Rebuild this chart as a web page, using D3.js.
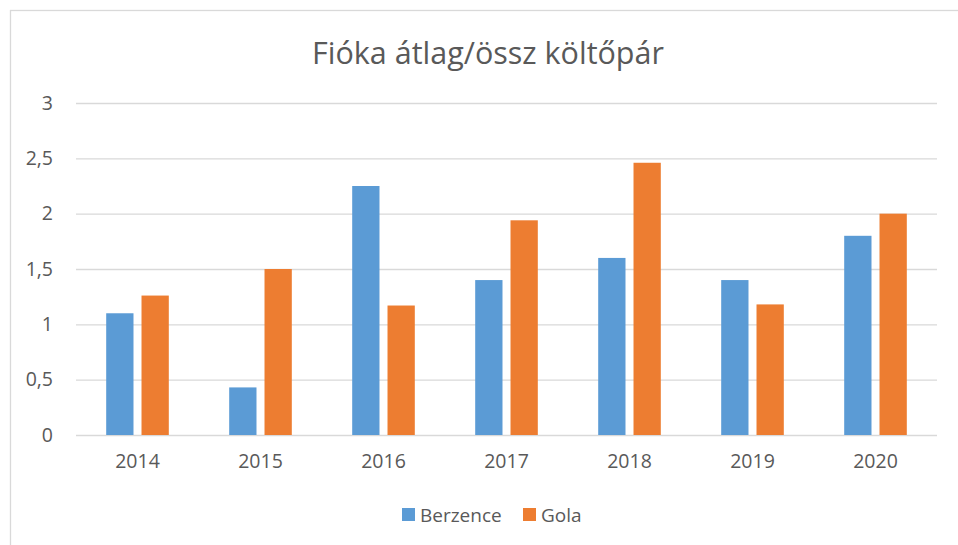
<!DOCTYPE html>
<html>
<head>
<meta charset="utf-8">
<script src="https://cdn.jsdelivr.net/npm/d3@7"></script>
<style>
  body { margin: 0; background: #fff; }
  svg { display: block; font-family: "Open Sans", sans-serif; }
</style>
</head>
<body>
<svg width="958" height="545"></svg>
<script>
// data
var years = ['2014', '2015', '2016', '2017', '2018', '2019', '2020'];
var seriesNames = ['Berzence', 'Gola'];
var berzence = [1.1, 0.43, 2.25, 1.4, 1.6, 1.4, 1.8];
var gola = [1.26, 1.5, 1.17, 1.94, 2.46, 1.18, 2.0];
var yTicks = [0, 0.5, 1, 1.5, 2, 2.5, 3];
var colors = ['#5b9bd5', '#ed7d31'];

var drawBarChart = function () {
    let svg = d3.select('svg');
    let margin = { top: 103, right: 21, bottom: 110, left: 76 };
    let plotWidth = 958 - margin.left - margin.right;
    let plotHeight = 545 - margin.top - margin.bottom;

    // chart area border (runs off the right/bottom of the picture)
    svg.append('rect')
        .attr('x', 10.5).attr('y', 10.5)
        .attr('width', 960).attr('height', 560)
        .attr('fill', 'none')
        .attr('stroke', '#d9d9d9')
        .attr('stroke-width', 1.3);

    svg.append('text')
        .attr('x', 488)
        .attr('y', 64)
        .attr('text-anchor', 'middle')
        .attr('fill', '#595959')
        .style('font-size', '30.5px')
        .text('Fióka átlag/össz költőpár');

    let plot = svg.append('g')
        .attr('id', 'plot')
        .attr('transform', 'translate(' + margin.left + ',' + margin.top + ')');

    let yearScale = d3.scaleBand()
        .domain(years)
        .range([0, plotWidth])
        .paddingInner(0.491)
        .paddingOuter(0.2455);

    let seriesScale = d3.scaleBand()
        .domain(seriesNames)
        .range([0, yearScale.bandwidth()])
        .paddingInner(0.227);

    let valueScale = d3.scaleLinear()
        .domain([0, 3])
        .range([plotHeight, 0]);

    let fmt = function (d) { return String(d).replace('.', ','); };

    // gridlines + y labels
    let yAxis = d3.axisLeft(valueScale)
        .tickValues(yTicks)
        .tickSize(-plotWidth)
        .tickPadding(23)
        .tickFormat(fmt);
    let yGroup = plot.append('g').attr('id', 'y-axis').call(yAxis);
    yGroup.select('.domain').remove();
    yGroup.selectAll('line').attr('stroke', '#d9d9d9').attr('stroke-width', 1.3);
    yGroup.selectAll('text')
        .attr('fill', '#595959')
        .style('font-size', '19.5px')
        .style('font-family', '"Open Sans", sans-serif');

    // bars
    let table = years.map(function (y, i) {
        return { year: y, values: [berzence[i], gola[i]] };
    });
    let groups = plot.selectAll('g.year')
        .data(table)
        .enter()
        .append('g')
        .attr('class', 'year')
        .attr('transform', function (d) { return 'translate(' + yearScale(d.year) + ',0)'; });
    groups.selectAll('rect')
        .data(function (d) {
            return d.values.map(function (v, j) { return { name: seriesNames[j], value: v, idx: j }; });
        })
        .enter()
        .append('rect')
        .attr('x', function (d) { return seriesScale(d.name); })
        .attr('y', function (d) { return valueScale(d.value); })
        .attr('width', seriesScale.bandwidth())
        .attr('height', function (d) { return plotHeight - valueScale(d.value); })
        .attr('fill', function (d) { return colors[d.idx]; });

    // x axis labels
    let xAxis = d3.axisBottom(yearScale).tickSize(0).tickPadding(19);
    let xGroup = plot.append('g')
        .attr('id', 'x-axis')
        .attr('transform', 'translate(0,' + plotHeight + ')')
        .call(xAxis);
    xGroup.select('.domain').remove();
    xGroup.selectAll('text')
        .attr('fill', '#595959')
        .style('font-size', '19.5px')
        .style('font-family', '"Open Sans", sans-serif');

    // legend
    let legend = svg.append('g').attr('id', 'legend');
    let legendX = [402, 523];
    seriesNames.forEach(function (name, i) {
        legend.append('rect')
            .attr('x', legendX[i]).attr('y', 508)
            .attr('width', 13).attr('height', 13)
            .attr('fill', colors[i]);
        legend.append('text')
            .attr('x', legendX[i] + 18).attr('y', 522)
            .attr('fill', '#595959')
            .style('font-size', '19px')
            .text(name);
    });
};
drawBarChart();
</script>
</body>
</html>
